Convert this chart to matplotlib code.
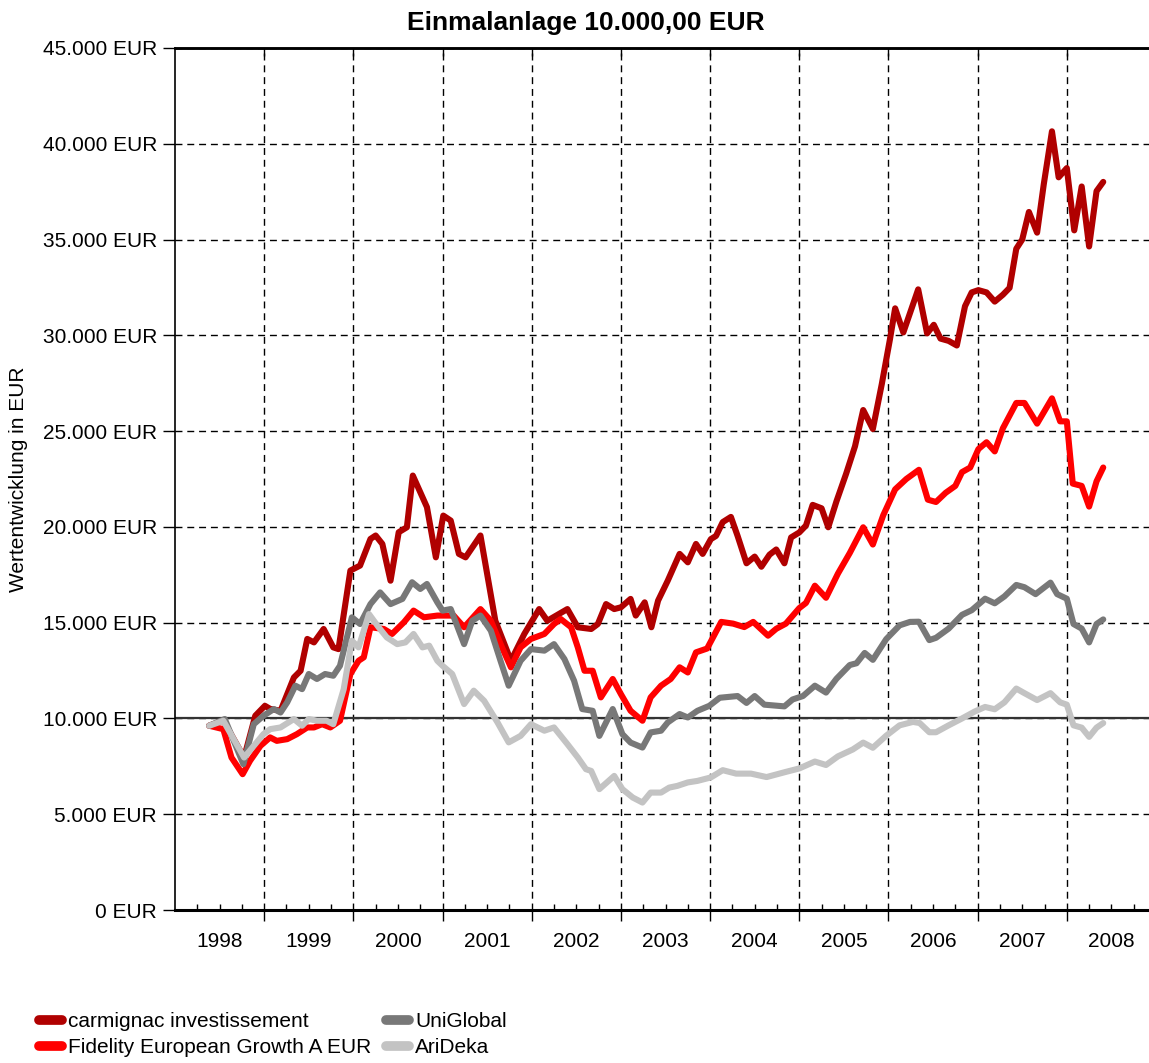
import matplotlib
matplotlib.use("Agg")
import matplotlib.pyplot as plt
from matplotlib.ticker import FuncFormatter

plt.rcParams['font.family'] = ['Liberation Sans', 'DejaVu Sans']

# months counted from Jan 1998, values in EUR
carm_month = [4.6, 6.5, 9.3, 10.8, 12.1, 12.8, 14.2, 16.0, 16.9, 17.8, 18.7, 20.0, 21.3, 22.0,
              23.6, 24.9, 26.3, 27.0, 27.9, 29.0, 30.1, 31.2, 32.0, 33.9, 35.1,
              36.1, 37.1, 38.2, 39.1, 41.1, 43.1, 45.2, 47.0, 49.0, 50.1, 52.8, 54.2, 56.0,
              56.9, 58.0, 59.1, 60.0, 61.3, 62.0, 63.2, 64.1, 65.0, 66.3, 67.9, 69.0, 70.1,
              71.0, 72.1, 72.8, 73.7, 74.8, 75.7, 76.9, 78.0, 78.9, 80.0, 80.9, 82.0, 82.9,
              84.0, 84.9, 85.8, 87.0, 87.9, 89.0, 90.3, 91.5, 92.6, 93.9, 95.1, 96.2, 96.9,
              98.0, 100.0, 101.2, 102.1, 103.0, 104.1, 105.2, 106.3, 107.2, 108.1, 109.2,
              110.3, 111.4, 112.3, 113.2, 114.0, 114.9, 116.0, 116.9, 118.0, 118.9, 120.0,
              121.0, 122.0, 123.0, 124.0, 124.9]
carm_value = [9620, 9900, 7960, 10140, 10660, 10500, 10400, 12140, 12490, 14150, 13970, 14670, 13710, 13620,
              17720, 17980, 19370, 19550, 19110, 17190, 19720, 19980, 22680, 21030, 18410,
              20590, 20330, 18590, 18410, 19550, 15100, 13010, 14410, 15710, 15100, 15710, 14760, 14670,
              14930, 15970, 15710, 15800, 16240, 15370, 16060, 14760, 16150, 17190, 18590, 18150, 19110,
              18590, 19360, 19530, 20250, 20520, 19530, 18100, 18450, 17920, 18550, 18820, 18100, 19450,
              19710, 20070, 21150, 20970, 19980, 21330, 22770, 24210, 26100, 25110, 27450, 29790, 31410,
              30150, 32400, 30100, 30550, 29830, 29710, 29470, 31520, 32240, 32360, 32240,
              31760, 32120, 32480, 34520, 35000, 36440, 35360, 37890, 40650, 38250, 38730,
              35480, 37770, 34640, 37530, 38010]

fid_month = [4.6, 6.5, 7.6, 9.1, 10.1, 11.5, 12.8, 13.7, 15.1, 16.4, 17.8, 18.7, 19.8, 20.9, 22.2,
             23.6, 24.7, 25.4, 26.3, 28.1, 29.2, 30.8, 32.1, 33.5, 35.3,
             36.2, 37.5, 38.9, 41.1, 42.5, 44.0, 45.2, 46.5, 47.9, 49.7, 51.0, 51.9, 53.3, 54.2,
             55.1, 56.2, 57.3, 58.9, 60.0, 61.3, 62.9, 64.0, 65.4, 66.7, 67.9, 69.0, 70.1, 71.6,
             73.5, 75.1, 76.6, 77.8, 79.8, 80.9, 82.2, 84.0, 84.9, 86.1, 87.6, 89.2, 90.8, 92.6,
             93.9, 95.3, 96.9, 98.4, 100.1, 101.3, 102.4, 103.7, 105.0, 105.9, 107.0, 108.1,
             109.2, 110.3, 111.4, 113.2, 114.3, 116.0, 118.0, 119.1, 120.0, 120.8, 122.0, 123.0,
             124.0, 124.9]
fid_value = [9620, 9440, 7960, 7090, 7790, 8570, 9010, 8830, 8920, 9180, 9530, 9530, 9700, 9530, 9880,
             12320, 13010, 13190, 14760, 14670, 14410, 15020, 15630, 15280, 15370,
             15370, 15370, 14760, 15710, 15100, 13710, 12670, 13710, 14150, 14410, 14930, 15190, 14760, 13710,
             12490, 12490, 11100, 12060, 11270, 10400, 9880, 11100, 11710, 12060, 12670, 12400, 13450, 13650,
             15040, 14950, 14770, 15040, 14320, 14680, 14950, 15760, 16030, 16930, 16300, 17560, 18640, 19980,
             19080, 20610, 21960, 22500, 22980, 21420, 21300, 21780, 22140, 22860, 23100, 24060,
             24420, 23940, 25150, 26470, 26470, 25390, 26710, 25510, 25510, 22260, 22140, 21060,
             22380, 23100]

uni_month = [4.6, 6.7, 9.2, 10.6, 11.9, 13.3, 14.2, 15.1, 16.2, 17.1, 18.0, 19.1, 20.2, 21.3, 22.2,
             23.8, 24.9, 26.3, 27.6, 29.0, 30.6, 31.9, 33.0, 33.9, 35.3,
             36.0, 37.1, 38.9, 40.0, 41.1, 42.5, 43.8, 44.9, 46.5, 47.9, 49.7, 51.0, 52.4, 53.7,
             54.8, 56.2, 57.1, 58.9, 60.2, 61.3, 62.9, 64.0, 65.4, 66.3, 67.9, 69.0, 70.3, 71.9,
             73.3, 75.7, 76.9, 78.0, 79.3, 82.0, 83.1, 84.5, 86.1, 87.6, 89.0, 90.8, 91.7, 92.8,
             93.9, 95.7, 97.5, 98.9, 100.1, 101.5, 102.4, 104.1, 105.9, 107.2, 109.0, 110.3,
             111.6, 113.2, 114.3, 115.8, 117.8, 118.7, 120.0, 120.9, 122.0, 123.0, 124.0, 124.9]
uni_value = [9620, 9970, 7610, 9700, 10140, 10490, 10310, 10840, 11710, 11530, 12320, 12060, 12320, 12230, 12750,
             15280, 14930, 15970, 16580, 15970, 16240, 17110, 16760, 17020, 16060,
             15630, 15710, 13880, 15100, 15370, 14580, 13010, 11710, 13010, 13620, 13540, 13880, 13100, 11970,
             10490, 10400, 9090, 10490, 9180, 8740, 8480, 9270, 9360, 9790, 10230, 10050, 10400, 10660,
             11080, 11170, 10810, 11170, 10720, 10630, 10990, 11170, 11710, 11350, 12070, 12790, 12880, 13420,
             13060, 14140, 14860, 15040, 15050, 14090, 14210, 14690, 15410, 15650, 16250, 16010,
             16370, 16970, 16850, 16490, 17090, 16490, 16250, 14930, 14690, 13970, 14930, 15170]

ari_month = [4.6, 6.5, 9.3, 10.6, 11.9, 12.8, 14.2, 16.0, 17.1, 18.0, 19.1, 20.4, 21.3, 22.7,
             23.8, 24.7, 26.1, 27.4, 28.5, 29.9, 31.0, 32.1, 33.3, 34.2, 35.3,
             36.0, 37.3, 38.9, 40.2, 41.6, 43.4, 44.9, 46.5, 47.9, 49.7, 51.0, 52.8, 54.2, 55.3,
             56.0, 57.1, 59.1, 60.2, 61.6, 62.9, 64.0, 65.4, 66.5, 67.6, 69.0, 70.3, 72.1,
             73.7, 75.5, 77.5, 79.6, 82.2, 84.0, 86.1, 87.6, 89.2, 91.2, 92.6, 93.9, 95.7, 97.5,
             99.3, 100.2, 101.5, 102.4, 104.1, 105.9, 107.6, 109.0, 110.3, 111.6, 113.2, 114.3,
             116.0, 117.8, 119.1, 120.0, 120.9, 122.0, 123.0, 124.0, 124.9]
ari_value = [9620, 9880, 7960, 8570, 9180, 9440, 9530, 9970, 9620, 9970, 9880, 9880, 9700, 11530,
             14060, 13710, 15450, 14760, 14230, 13880, 13970, 14410, 13710, 13800, 13010,
             12750, 12320, 10750, 11450, 10920, 9790, 8750, 9090, 9700, 9360, 9530, 8660, 7960, 7350,
             7260, 6310, 7000, 6310, 5870, 5610, 6130, 6130, 6390, 6480, 6660, 6740, 6920,
             7300, 7120, 7120, 6940, 7210, 7390, 7750, 7570, 8020, 8380, 8740, 8470, 9100, 9640,
             9820, 9760, 9280, 9280, 9640, 10000, 10360, 10600, 10480, 10840, 11560, 11320,
             10960, 11320, 10840, 10720, 9640, 9520, 9040, 9520, 9760]

series_names = ['carmignac investissement', 'Fidelity European Growth A EUR', 'UniGlobal', 'AriDeka']
series_colors = ['#b00000', '#ff0000', '#787878', '#c3c3c3']
years = list(range(1998, 2009))
y_ticks = list(range(0, 45001, 5000))


def to_year(months):
    return [1998 + m / 12 for m in months]


fig = plt.figure(figsize=(11.49, 10.63), dpi=100)
ax = fig.add_axes([175 / 1149, 1 - 910 / 1063, 981 / 1149, 862 / 1063])

data = [(carm_month, carm_value), (fid_month, fid_value), (uni_month, uni_value), (ari_month, ari_value)]
for (mon, val), name, col in zip(data, series_names, series_colors):
    ax.plot(to_year(mon), val, color=col, lw=4.4, label=name,
            solid_joinstyle='round', solid_capstyle='round', zorder=3)

ax.set_xlim(1998, 2009)
ax.set_ylim(0, 45000)

# year boundaries: dashed grid, ticks out at bottom
bounds = list(range(1999, 2009))
ax.set_xticks(bounds)
ax.set_xticklabels([''] * len(bounds))
ax.set_xticks([1998 + q / 4 for q in range(44) if q % 4], minor=True)
ax.tick_params(axis='x', which='major', direction='out', length=8, width=1)
ax.tick_params(axis='x', which='minor', direction='in', length=4, width=1)

ax.set_yticks(y_ticks)
ax.yaxis.set_major_formatter(FuncFormatter(lambda v, p: f"{v:,.0f}".replace(',', '.') + ' EUR'))
ax.tick_params(axis='y', direction='out', length=9, width=1, labelsize=15, pad=4)

grid_kw = dict(color='black', lw=1.0, linestyle=(0, (5, 3.5)))
ax.xaxis.grid(True, which='major', **grid_kw)
ax.yaxis.grid(True, which='major', **grid_kw)
ax.axhline(10000, color='#333333', lw=1.6, zorder=2)

# year labels centered in each year
sec = ax.secondary_xaxis('bottom')
sec.set_xticks([y + 0.5 for y in years])
sec.set_xticklabels([str(y) for y in years], fontsize=15)
sec.tick_params(length=0, pad=16)
sec.spines['bottom'].set_visible(False)

top = ax.secondary_xaxis('top')
top.set_xticks(bounds)
top.set_xticklabels([''] * len(bounds))
top.tick_params(direction='in', length=6, width=1)

ax.spines['right'].set_visible(False)
ax.spines['left'].set_linewidth(1.2)
ax.spines['bottom'].set_linewidth(2.2)
ax.spines['top'].set_linewidth(1.8)
top.spines['top'].set_linewidth(1.8)

ax.set_ylabel('Wertentwicklung in EUR', fontsize=15)
ax.yaxis.set_label_coords((28 - 175) / 981, 0.5)

fig.text(586 / 1149, 1 - 23 / 1063, 'Einmalanlage 10.000,00 EUR', fontsize=19,
         fontweight='bold', ha='center', va='center')

leg = fig.legend(loc='upper left', bbox_to_anchor=(39 / 1149, 1 - 1012 / 1063), ncol=2,
                 frameon=False, fontsize=15, handlelength=1.1, handletextpad=0.3,
                 columnspacing=0.7, labelspacing=0.35, borderpad=0, borderaxespad=0)
for line in leg.get_lines():
    line.set_linewidth(7)
    line.set_solid_capstyle('round')

fig.savefig('out.png', dpi=100)
